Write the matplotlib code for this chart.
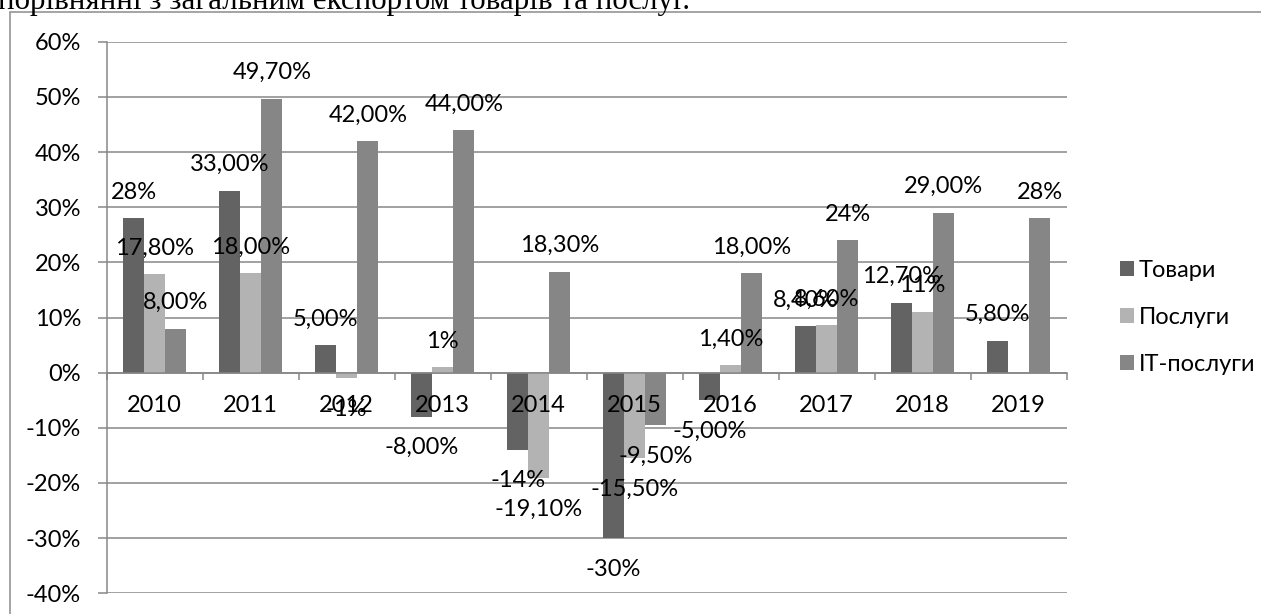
import matplotlib.pyplot as plt
from matplotlib.patches import Rectangle
import numpy as np

plt.rcParams['font.family'] = ['Lato', 'DejaVu Sans']

years = ['2010', '2011', '2012', '2013', '2014', '2015', '2016', '2017', '2018', '2019']

goods = [28, 33, 5, -8, -14, -30, -5, 8.4, 12.7, 5.8]
services = [17.8, 18, -1, 1, -19.1, -15.5, 1.4, 8.6, 11, None]
it_services = [8, 49.7, 42, 44, 18.3, -9.5, 18, 24, 29, 28]

goods_labels = ['28%', '33,00%', '5,00%', '-8,00%', '-14%', '-30%', '-5,00%', '8,40%', '12,70%', '5,80%']
services_labels = ['17,80%', '18,00%', '-1%', '1%', '-19,10%', '-15,50%', '1,40%', '8,60%', '11%', None]
it_labels = ['8,00%', '49,70%', '42,00%', '44,00%', '18,30%', '-9,50%', '18,00%', '24%', '29,00%', '28%']

series = [
    ('Товари', goods, goods_labels, '#636363'),
    ('Послуги', services, services_labels, '#b3b3b3'),
    ('IT-послуги', it_services, it_labels, '#868686'),
]

W, H = 1261, 614
fig = plt.figure(figsize=(W / 100, H / 100), dpi=100)

# text line of the document above the chart, cut by the page crop
fig.text(-2 / W, 1 - 9 / H, 'порівнянні з загальним експортом товарів та послуг.',
         family='Liberation Serif', fontsize=22.3, ha='left', va='baseline', color='black')

# chart frame
fig.patches.append(Rectangle((10 / W, -0.1), 1.2, 1 - 12 / H + 0.1, transform=fig.transFigure,
                             fill=False, edgecolor='#8c8c8c', lw=1.1, zorder=0))

ax = fig.add_axes([106.7 / W, (H - 593.3) / H, 960 / W, (593.3 - 41.7) / H])

grid_c = '#878787'
fs = 17
x = np.arange(len(years))
bw = 0.22
for i, (name, vals, labels, color) in enumerate(series):
    xs = [xi + (i - 1) * bw for xi, v in zip(x, vals) if v is not None]
    vs = [v for v in vals if v is not None]
    ax.bar(xs, vs, width=bw, color=color, label=name, zorder=3)
    for xi, v, lab in zip(x, vals, labels):
        if v is None:
            continue
        off = 26 if v >= 0 else -31
        ax.annotate(lab, (xi + (i - 1) * bw, v), xytext=(0, off), textcoords='offset pixels',
                    ha='center', va='center', fontsize=fs, color='black', zorder=5)

ax.set_xlim(-0.5, len(years) - 0.5)
ax.set_ylim(-40, 60)
ax.set_yticks(range(-40, 61, 10))
ax.set_yticklabels([f'{t}%' for t in range(-40, 61, 10)])
ax.yaxis.grid(True, color=grid_c, lw=1.1)

ax.spines['top'].set_visible(False)
ax.spines['right'].set_visible(False)
ax.spines['left'].set_color(grid_c)
ax.spines['left'].set_linewidth(1.1)
ax.spines['bottom'].set_position(('data', 0))
ax.spines['bottom'].set_color(grid_c)
ax.spines['bottom'].set_linewidth(1.1)
ax.spines['bottom'].set_zorder(4)

ax.tick_params(axis='y', length=6.5, width=1.1, color=grid_c, labelsize=fs, pad=12)
ax.set_xticks(np.arange(-0.5, len(years)), minor=False)
ax.set_xticklabels([])
ax.set_xticks(x, minor=True)
ax.set_xticklabels(years, minor=True)
ax.tick_params(axis='x', which='major', length=5, width=1.1, color=grid_c, direction='out')
ax.tick_params(axis='x', which='minor', length=0, labelsize=fs, pad=16)
# year labels sit on top of the bars, grid stays behind them
ax.xaxis.set_zorder(4.5)
ax.yaxis.set_zorder(1)

ax.legend(loc='center left', bbox_to_anchor=(1108 / W, 1 - 317.5 / H), bbox_transform=fig.transFigure,
          frameon=False, fontsize=fs, borderpad=0, labelspacing=1.1,
          handlelength=0.6, handleheight=0.6, handletextpad=0.2)

fig.savefig('out.png', dpi=100)
